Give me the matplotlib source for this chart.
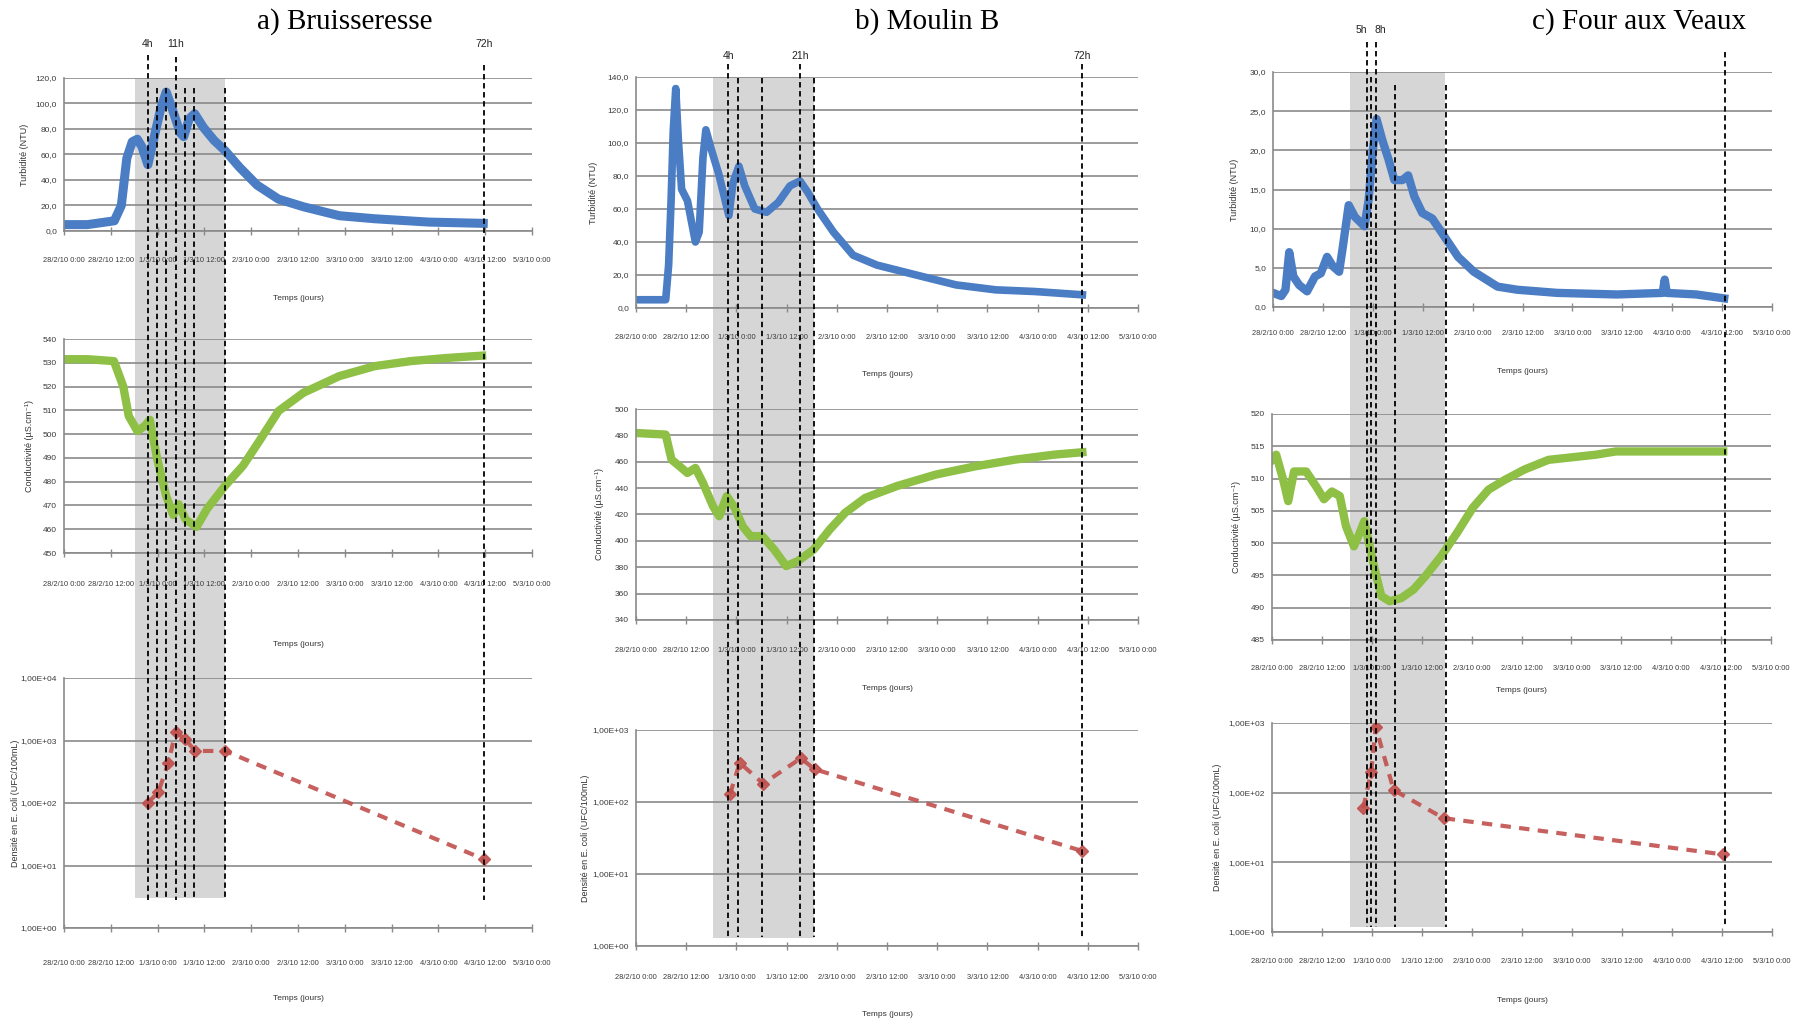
import matplotlib

matplotlib.use("Agg")
import matplotlib.pyplot as plt
from matplotlib.lines import Line2D
from matplotlib.patches import Rectangle
from matplotlib.text import Annotation
from matplotlib.ticker import NullLocator
from matplotlib.transforms import blended_transform_factory

W, H = 1803, 1026
SMALL = ["Liberation Sans", "DejaVu Sans"]
BLUE, GREEN, RED = "#4a7dc4", "#8dc044", "#c0504d"
GRID = "#8a8a8a"

# time axis: hours since 28/2/10 0:00
TIME_TICKS = list(range(0, 121, 12))
TIME_LABELS = ["28/2/10 0:00", "28/2/10 12:00", "1/3/10 0:00", "1/3/10 12:00",
               "2/3/10 0:00", "2/3/10 12:00", "3/3/10 0:00", "3/3/10 12:00",
               "4/3/10 0:00", "4/3/10 12:00", "5/3/10 0:00"]

# ---- a) Bruisseresse --------------------------------------------------------
a_turb_h = [0, 6, 12.9, 14.7, 16.1, 17.5, 18.8, 20.0, 21.5, 23, 24.8, 26.2,
            27.5, 29.8, 30.7, 32.1, 33.5, 35.8, 38.5, 41.3, 45, 49.5, 55,
            61.4, 70.6, 79.7, 93.5, 107.5]
a_turb = [5, 5, 8, 20, 57, 70, 72, 66, 52, 72, 96, 109, 98, 77, 74, 88, 92,
          81, 71, 63, 50, 36, 25, 19, 12, 9.6, 7, 6]
a_cond_h = [0, 6, 12.8, 15.2, 16.6, 18.8, 20.7, 22, 23.9, 26.2, 28, 29.4, 31.2,
            34, 36.7, 41.3, 45.9, 50.4, 55, 61.4, 70.6, 79.7, 88.9, 98, 107.2]
a_cond = [531.5, 531.5, 530.7, 520, 507.6, 501.3, 503.4, 506, 489.5, 474, 466,
          470.5, 464, 461, 468.6, 478.3, 486.7, 497.9, 509.7, 517.4, 524.4,
          528.6, 530.7, 532, 533]
a_ecoli_h = [21.5, 24.2, 26.7, 28.6, 31.0, 33.6, 41.3, 107.7]
a_ecoli = [100, 150, 430, 1350, 1070, 680, 680, 12.6]
a_lines = [21.5, 23.8, 26.2, 28.6, 31.0, 33.4, 41.3, 107.8]
a_marks = ["4h", "", "", "11h", "", "", "", "72h"]
a_band = (18.1, 41.2)

# ---- b) Moulin B ------------------------------------------------------------
b_turb_h = [0, 7.1, 7.8, 8.4, 8.9, 9.5, 10.1, 10.9, 12.3, 14.2, 15.1, 16,
            16.7, 17.9, 19.8, 22.2, 23.2, 24.6, 26, 28.4, 31.2, 34, 36.8,
            39.2, 41.1, 43.4, 47.2, 51.9, 57.6, 67, 76.5, 86, 95.3, 106.7]
b_turb = [5, 5, 26, 66, 107, 133, 103, 72, 65, 40, 46, 91, 108, 97, 81, 56,
          76, 86, 74, 60, 58, 64, 74, 77, 70, 60, 46, 32, 26, 20, 14, 11, 10, 8]
b_cond_h = [0, 7.1, 8.5, 10.4, 12.3, 14.2, 16, 18.4, 19.9, 21.7, 23.6, 25.5,
            27.4, 30.2, 33, 35.9, 38.7, 42.5, 46.3, 50, 54.8, 62.3, 71.7,
            81.2, 90.6, 100, 106.7]
b_cond = [481.8, 480.6, 461.6, 456.6, 451.5, 455.3, 444, 426.3, 418.7, 433.9,
          425, 411, 403.6, 403.6, 393.5, 380.9, 384.7, 393.5, 408.6, 421.3,
          432.6, 441.5, 450.3, 456.6, 461.6, 465.4, 467.2]
b_ecoli_h = [22.5, 24.8, 30.4, 39.4, 42.7, 106.5]
b_ecoli = [130, 350, 180, 405, 285, 21]
b_lines = [22.0, 24.4, 30.1, 39.2, 42.6, 106.6]
b_marks = ["4h", "", "", "21h", "", "72h"]
b_band = (18.4, 42.6)

# ---- c) Four aux Veaux ------------------------------------------------------
c_turb_h = [0, 2, 3, 3.9, 4.9, 6.3, 8.2, 10.1, 11.5, 13, 14.4, 15.9, 16.8,
            18.2, 19.7, 22, 23, 24, 24.9, 26.3, 27.8, 29.2, 31.1, 32.5, 34,
            35.9, 38.3, 40.7, 44.5, 48.3, 54, 58.8, 68.4, 82.7, 93.7, 94.2,
            94.7, 101.8, 108.5]
c_turb = [1.8, 1.4, 2.2, 7, 3.9, 2.8, 2, 3.9, 4.3, 6.4, 5.2, 4.5, 7.7, 13,
          11.5, 10.3, 13.7, 20, 24, 21.3, 18.8, 16.2, 16.2, 16.8, 14.1, 12,
          11.3, 9.4, 6.4, 4.5, 2.6, 2.2, 1.8, 1.6, 1.8, 3.5, 1.8, 1.6, 1.1]
c_cond_h = [0, 1, 2.7, 3.9, 5.3, 8.2, 10.6, 12.5, 14.4, 16.3, 17.8, 19.7,
            21.1, 22.2, 23.5, 24.9, 26.3, 28.3, 31.1, 34, 36.9, 40.7, 44.5,
            48.3, 52.1, 56, 60.7, 66.5, 77.9, 82.7, 108.5]
c_cond = [512.9, 513.7, 509.8, 506.5, 511.1, 511.1, 508.8, 506.8, 508, 507.3,
          502.6, 499.5, 501.6, 503.4, 499.5, 495.4, 491.8, 491, 491.5, 492.8,
          494.9, 498, 501.6, 505.5, 508.3, 509.8, 511.4, 512.9, 513.7, 514.2,
          514.2]
c_ecoli_h = [21.9, 23.8, 24.9, 29.2, 41.2, 108.2]
c_ecoli = [60, 200, 877, 109, 43, 13]
c_lines = [22.5, 23.5, 24.8, 29.3, 41.5, 108.6]
c_marks = ["5h", "", "8h", "", "", ""]
c_band = (18.5, 41.4)

TURB_LABEL = "Turbidité (NTU)"
COND_LABEL = "Conductivité (µS.cm⁻¹)"
ECOLI_LABEL = "Densité en E. coli (UFC/100mL)"


def add_box(fig, l, t, r, b):
    ax = fig.add_axes([l / W, 1 - b / H, (r - l) / W, (b - t) / H])
    ax.set_facecolor("none")
    return ax


def style(ax, box, ylabel, ylab_x, tick_off, temps_off):
    l, t, r, b = box
    ax.set_xlim(0, 120)
    ax.set_xticks(TIME_TICKS)
    ax.set_xticklabels(TIME_LABELS, fontsize=5.4, family=SMALL, color="#3a3a3a")
    ax.tick_params(axis="x", direction="inout", length=6, width=1,
                   color=GRID, pad=(tick_off - 7) * 0.72)
    ax.tick_params(axis="y", length=0, pad=5, labelsize=6, labelcolor="#3a3a3a")
    for lab in ax.get_yticklabels():
        lab.set_family(SMALL)
    ax.yaxis.grid(True, color=GRID, lw=1.2)
    ax.set_axisbelow(True)
    for s in ("top", "right"):
        ax.spines[s].set_visible(False)
    for s in ("left", "bottom"):
        ax.spines[s].set_color(GRID)
        ax.spines[s].set_linewidth(1.2)
    ax.set_ylabel(ylabel, fontsize=6.5, family=SMALL, color="#333333")
    ax.yaxis.set_label_coords((ylab_x - l) / (r - l), 0.5)
    ax.annotate("Temps (jours)", xy=(0.5, 0), xycoords="axes fraction",
                xytext=(0, -temps_off), textcoords="offset pixels",
                ha="center", va="center", fontsize=6, family=SMALL,
                color="#333333")


def linear_axis(ax, lo, hi, step, fmt):
    ticks = list(range(lo, hi + 1, step))
    ax.set_ylim(lo, hi)
    ax.set_yticks(ticks)
    ax.set_yticklabels([fmt(v) for v in ticks])


def log_axis(ax, top_exp):
    ticks = [10 ** e for e in range(top_exp + 1)]
    ax.set_yscale("log")
    ax.set_ylim(1, 10 ** top_exp)
    ax.set_yticks(ticks)
    ax.set_yticklabels([f"1,00E+{e:02d}" for e in range(top_exp + 1)])
    ax.yaxis.set_minor_locator(NullLocator())


def events(fig, ax, band, band_y, lines, marks, tops, bottom, label_y,
           label_dx=None):
    """Grey sampling window and dashed sampling times, spanning the column."""
    trans = blended_transform_factory(ax.transData, fig.transFigure)
    fy = lambda p: 1 - p / H
    fig.add_artist(Rectangle((band[0], fy(band_y[1])), band[1] - band[0],
                             fy(band_y[0]) - fy(band_y[1]), transform=trans,
                             facecolor="#d6d6d6", edgecolor="none", zorder=-1))
    label_dx = label_dx or [0] * len(lines)
    for x, m, top, dx in zip(lines, marks, tops, label_dx):
        fig.add_artist(Line2D([x, x], [fy(top), fy(bottom)], transform=trans,
                              color="black", lw=1.3, ls=(0, (3, 2)), zorder=5))
        if m:
            fig.add_artist(Annotation(m, xy=(x, fy(label_y)), xycoords=trans,
                                      xytext=(dx, 0), textcoords="offset pixels",
                                      ha="center", va="center", fontsize=7.5,
                                      family=SMALL, color="#222222"))


def main():
    fig = plt.figure(figsize=(W / 100, H / 100), dpi=100)

    titles = [("a) Bruisseresse", 345), ("b) Moulin B", 927),
              ("c) Four aux Veaux", 1639)]
    for txt, x in titles:
        fig.text(x / W, 1 - 22 / H, txt, family="Liberation Serif",
                 fontsize=21, ha="center", va="center")

    # column a
    box = (64, 78, 532, 231)
    ax = add_box(fig, *box)
    ax.plot(a_turb_h, a_turb, color=BLUE, lw=6.5, solid_joinstyle="round")
    linear_axis(ax, 0, 120, 20, lambda v: f"{v},0")
    style(ax, box, TURB_LABEL, 29, 29, 67)
    a_top = ax

    box = (64, 339, 532, 553)
    ax = add_box(fig, *box)
    ax.plot(a_cond_h, a_cond, color=GREEN, lw=6, solid_joinstyle="round")
    linear_axis(ax, 450, 540, 10, str)
    style(ax, box, COND_LABEL, 34, 31, 91)

    box = (64, 678, 532, 928)
    ax = add_box(fig, *box)
    ax.plot(a_ecoli_h, a_ecoli, color=RED, lw=3, ls=(0, (2.5, 2)),
            marker="D", ms=6, alpha=0.9)
    log_axis(ax, 4)
    style(ax, box, ECOLI_LABEL, 20, 35, 71)
    events(fig, a_top, a_band, (78, 898), a_lines, a_marks,
           [55, 88, 88, 57, 88, 88, 88, 65], 900, 44)

    # column b
    box = (636, 77, 1138, 308)
    ax = add_box(fig, *box)
    ax.plot(b_turb_h, b_turb, color=BLUE, lw=5.5, solid_joinstyle="round")
    linear_axis(ax, 0, 140, 20, lambda v: f"{v},0")
    style(ax, box, TURB_LABEL, 598, 29, 67)
    b_top = ax

    box = (636, 409, 1138, 620)
    ax = add_box(fig, *box)
    ax.plot(b_cond_h, b_cond, color=GREEN, lw=6, solid_joinstyle="round")
    linear_axis(ax, 340, 500, 20, str)
    style(ax, box, COND_LABEL, 604, 30, 68)

    box = (636, 730, 1138, 946)
    ax = add_box(fig, *box)
    ax.plot(b_ecoli_h, b_ecoli, color=RED, lw=3, ls=(0, (2.5, 2)),
            marker="D", ms=6, alpha=0.9)
    log_axis(ax, 3)
    style(ax, box, ECOLI_LABEL, 590, 31, 69)
    events(fig, b_top, b_band, (77, 938), b_lines, b_marks,
           [64, 78, 78, 64, 78, 64], 937, 56)

    # column c
    box = (1273, 72, 1772, 307)
    ax = add_box(fig, *box)
    ax.plot(c_turb_h, c_turb, color=BLUE, lw=6, solid_joinstyle="round")
    linear_axis(ax, 0, 30, 5, lambda v: f"{v},0")
    style(ax, box, TURB_LABEL, 1239, 26, 64)
    c_top = ax

    box = (1272, 414, 1771, 640)
    ax = add_box(fig, *box)
    ax.plot(c_cond_h, c_cond, color=GREEN, lw=6, solid_joinstyle="round")
    linear_axis(ax, 485, 520, 5, str)
    style(ax, box, COND_LABEL, 1241, 28, 51)

    box = (1272, 723, 1772, 932)
    ax = add_box(fig, *box)
    ax.plot(c_ecoli_h, c_ecoli, color=RED, lw=3, ls=(0, (2.5, 2)),
            marker="D", ms=6, alpha=0.9)
    log_axis(ax, 3)
    style(ax, box, ECOLI_LABEL, 1222, 29, 69)
    events(fig, c_top, c_band, (72, 927), c_lines, c_marks,
           [42, 77, 42, 85, 85, 52], 927, 30, label_dx=[-5, 0, 4, 0, 0, 0])

    fig.savefig("out.png", dpi=100, facecolor="white")


if __name__ == "__main__":
    main()
